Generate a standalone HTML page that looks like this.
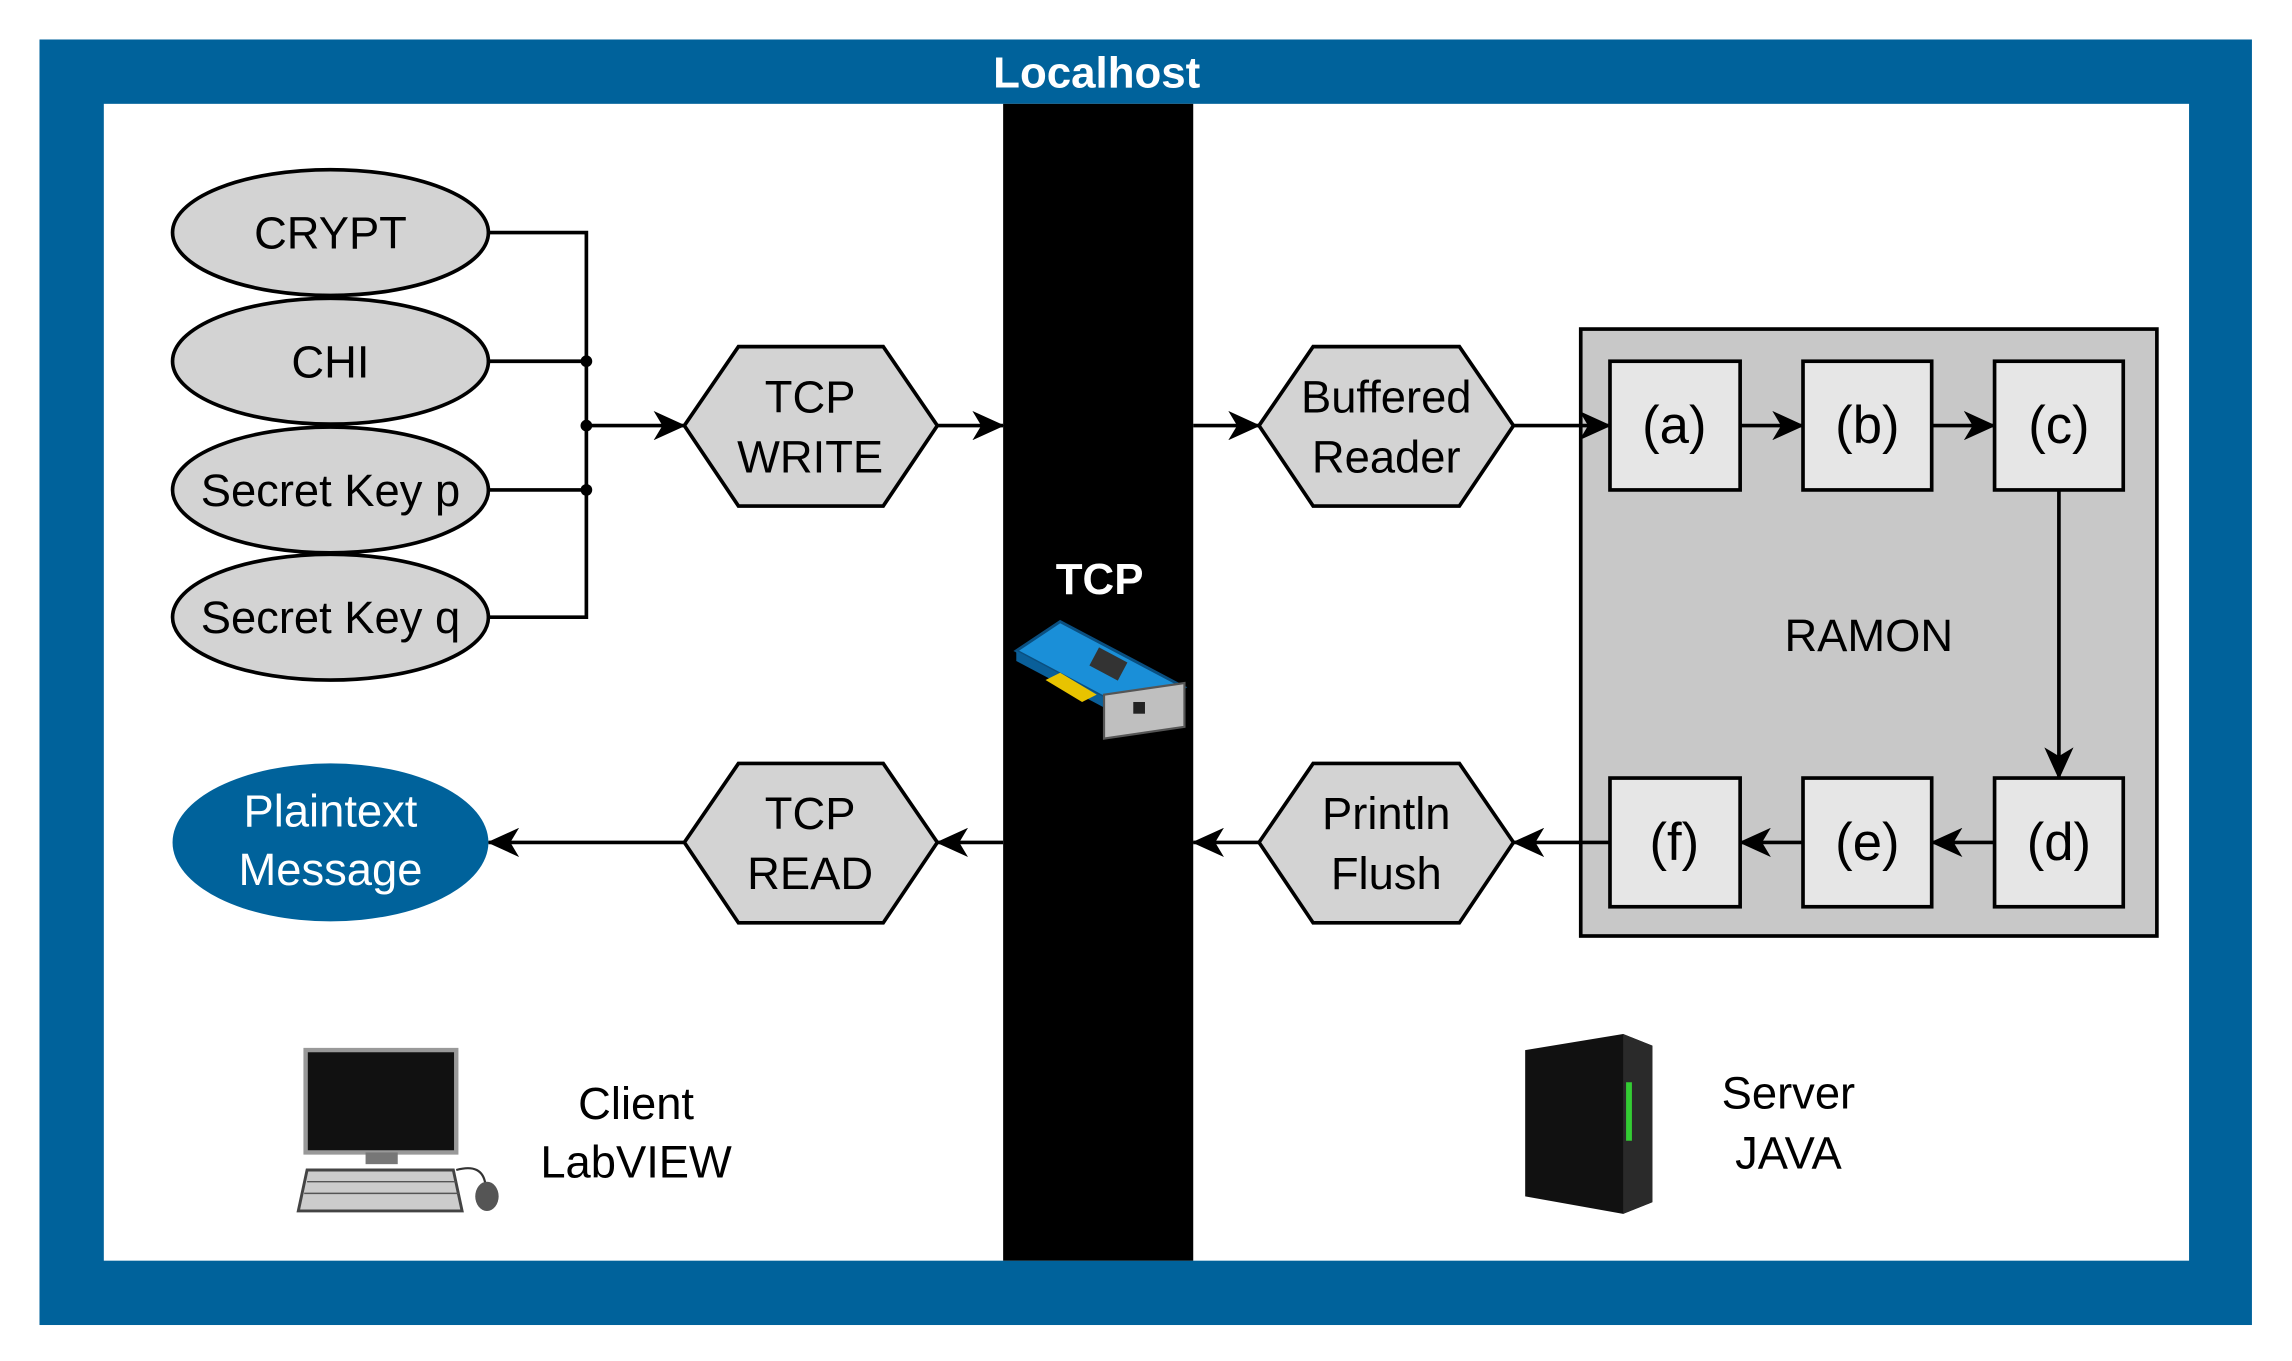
<!DOCTYPE html>
<html><head><meta charset="utf-8"><style>
html,body{margin:0;padding:0;background:#fff;}
svg{display:block;}
text{font-family:"Liberation Sans",Arial,sans-serif;}
</style></head><body>
<svg width="2292" height="1361" viewBox="0 0 1567.4 930.6" preserveAspectRatio="none" xmlns="http://www.w3.org/2000/svg">
<defs>
<marker id="ar" markerWidth="22" markerHeight="20" refX="21" refY="10" orient="auto" markerUnits="userSpaceOnUse" viewBox="0 0 22 20">
<path d="M0,0 L22,10 L0,20 L6,10 z" fill="#000"/></marker>
</defs>
<rect x="27" y="27" width="1513" height="879" fill="#00629b"/>
<rect x="71" y="71" width="1426" height="791" fill="#fff"/>
<text x="750" y="60" font-size="30" font-weight="bold" fill="#fff" text-anchor="middle">Localhost</text>
<rect x="686" y="71" width="130" height="791" fill="#000"/>
<text x="752" y="406" font-size="30" font-weight="bold" fill="#fff" text-anchor="middle">TCP</text>
<g transform="translate(695,425)">
<polygon points="0,20 30,0 115,45 85,65" fill="#1a8fd8" stroke="#0a4f80" stroke-width="2"/>
<polygon points="0,20 85,65 85,72 0,27" fill="#0a5f99"/>
<rect x="52" y="22" width="22" height="14" fill="#333" transform="rotate(28 63 29)"/>
<polygon points="20,40 45,55 55,50 30,35" fill="#e8c300"/>
<polygon points="60,50 115,42 115,72 60,80" fill="#bfbfbf" stroke="#555" stroke-width="1.5"/>
<rect x="80" y="55" width="8" height="8" fill="#222"/>
</g>
<g stroke="#000" stroke-width="2.5" fill="#d3d3d3">
<ellipse cx="226" cy="159" rx="108" ry="43"/>
<ellipse cx="226" cy="247" rx="108" ry="43"/>
<ellipse cx="226" cy="335" rx="108" ry="43"/>
<ellipse cx="226" cy="422" rx="108" ry="43"/>
</g>
<g font-size="31" text-anchor="middle" fill="#000">
<text x="226" y="170">CRYPT</text>
<text x="226" y="258">CHI</text>
<text x="226" y="346">Secret Key p</text>
<text x="226" y="433">Secret Key q</text>
</g>
<g stroke="#000" stroke-width="2.5" fill="#d3d3d3">
<polygon points="468,291 505,237 604,237 641,291 604,346 505,346"/>
<polygon points="861,291 898,237 998,237 1035,291 998,346 898,346"/>
<polygon points="861,576 898,522 998,522 1035,576 998,631 898,631"/>
<polygon points="468,576 505,522 604,522 641,576 604,631 505,631"/>
</g>
<g font-size="31" text-anchor="middle" fill="#000">
<text x="554" y="282">TCP</text><text x="554" y="323">WRITE</text>
<text x="948" y="282">Buffered</text><text x="948" y="323">Reader</text>
<text x="948" y="567">Println</text><text x="948" y="608">Flush</text>
<text x="554" y="567">TCP</text><text x="554" y="608">READ</text>
</g>
<rect x="1081" y="225" width="394" height="415" fill="#c8c8c8" stroke="#000" stroke-width="2.5"/>
<g stroke="#000" stroke-width="2.5" fill="#e6e6e6">
<rect x="1101" y="247" width="89" height="88"/><rect x="1233" y="247" width="88" height="88"/><rect x="1364" y="247" width="88" height="88"/>
<rect x="1101" y="532" width="89" height="88"/><rect x="1233" y="532" width="88" height="88"/><rect x="1364" y="532" width="88" height="88"/>
</g>
<g font-size="36" text-anchor="middle" fill="#000">
<text x="1145" y="303">(a)</text><text x="1277" y="303">(b)</text><text x="1408" y="303">(c)</text>
<text x="1145" y="588">(f)</text><text x="1277" y="588">(e)</text><text x="1408" y="588">(d)</text>
</g>
<text x="1278" y="445" font-size="31" text-anchor="middle">RAMON</text>
<g stroke="#000" stroke-width="2.5" fill="none">
<path d="M334,159 H401 V422 H334"/>
<path d="M334,247 H401 M334,335 H401"/>
<path d="M401,291 H468" marker-end="url(#ar)"/>
<path d="M641,291 H686" marker-end="url(#ar)"/>
<path d="M816,291 H861" marker-end="url(#ar)"/>
<path d="M1035,291 H1101" marker-end="url(#ar)"/>
<path d="M1190,291 H1233" marker-end="url(#ar)"/>
<path d="M1321,291 H1364" marker-end="url(#ar)"/>
<path d="M1408,335 V532" marker-end="url(#ar)"/>
<path d="M1364,576 H1321" marker-end="url(#ar)"/>
<path d="M1233,576 H1190" marker-end="url(#ar)"/>
<path d="M1101,576 H1035" marker-end="url(#ar)"/>
<path d="M861,576 H816" marker-end="url(#ar)"/>
<path d="M686,576 H641" marker-end="url(#ar)"/>
<path d="M468,576 H334" marker-end="url(#ar)"/>
</g>
<g fill="#000"><circle cx="401" cy="247" r="4"/><circle cx="401" cy="291" r="4"/><circle cx="401" cy="335" r="4"/></g>
<ellipse cx="226" cy="576" rx="108" ry="54" fill="#00629b"/>
<text x="226" y="565" font-size="31" fill="#fff" text-anchor="middle">Plaintext</text>
<text x="226" y="605" font-size="31" fill="#fff" text-anchor="middle">Message</text>
<g>
<rect x="209" y="718" width="103" height="70" fill="#111" stroke="#999" stroke-width="3"/>
<rect x="250" y="788" width="22" height="8" fill="#777"/>
<polygon points="210,800 310,800 316,828 204,828" fill="#ccc" stroke="#444" stroke-width="2"/>
<g stroke="#555" stroke-width="1"><line x1="210" y1="808" x2="312" y2="808"/><line x1="208" y1="816" x2="314" y2="816"/></g>
<path d="M312,800 Q330,795 332,810" stroke="#333" fill="none" stroke-width="1.5"/>
<ellipse cx="333" cy="818" rx="8" ry="10" fill="#555"/>
</g>
<text x="435" y="765" font-size="31" text-anchor="middle">Client</text>
<text x="435" y="805" font-size="31" text-anchor="middle">LabVIEW</text>
<g>
<polygon points="1043,718 1110,707 1130,715 1130,822 1110,830 1043,818" fill="#111"/>
<polygon points="1110,707 1130,715 1130,822 1110,830" fill="#2a2a2a"/>
<rect x="1112" y="740" width="4" height="40" fill="#3c3"/>
</g>
<text x="1223" y="758" font-size="31" text-anchor="middle">Server</text>
<text x="1223" y="799" font-size="31" text-anchor="middle">JAVA</text>
</svg>
</body></html>
